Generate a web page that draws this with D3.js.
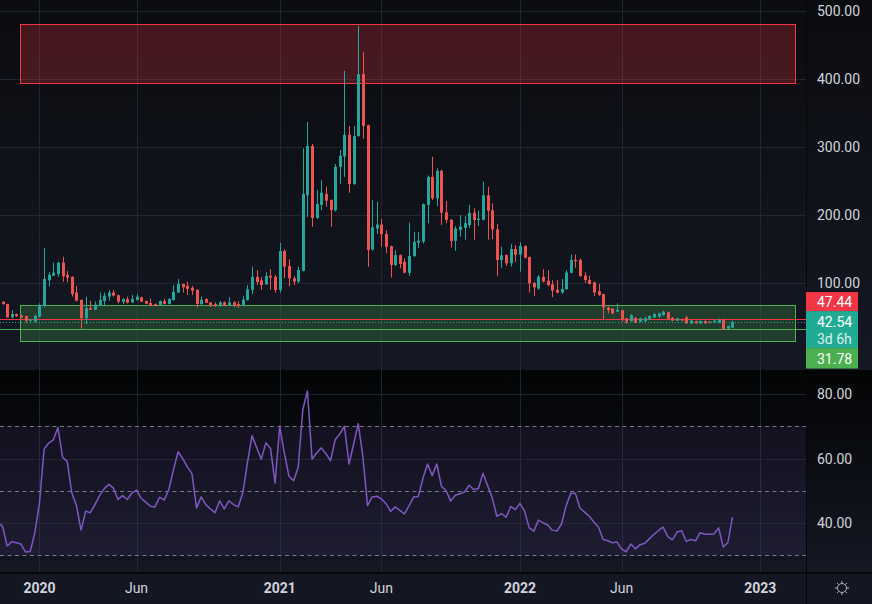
<!DOCTYPE html>
<html><head><meta charset="utf-8">
<script src="https://cdn.jsdelivr.net/npm/d3@7"></script>
<style>
html,body{margin:0;padding:0;background:#131722;overflow:hidden;}
svg{display:block;font-family:Roboto,"Noto Sans",sans-serif;}
</style></head><body><svg id="c" width="872" height="604"></svg>
<script>
// ---- data (weekly candles, index 0 = week of 2019-10-28) ----
const opens  =[76,72.5,69,49.5,54.4,52,51.5,44.6,43.6,50.5,66,104,110.8,113,130,112,109,86,75,48,63.2,60.8,67,73.5,80,86,82,72.5,76.5,71.5,75,79,73.5,70.6,69,66.7,73.5,69,75,86,98.5,96,93,90,69,76.5,71.5,69,66.7,71.5,66.7,71.5,69,66.7,75,90,109,104,98,110.8,109,90,147,125,107,102,118,229,301.5,195.6,215,231,222,207,271,286,318,245.6,316,407,332,149.5,180,186,172,154,126.5,141,131,115,139.7,159.3,161,215,256,224.5,265,204,193,162,178,181,185,203.4,192.6,193,229,207,179,134,141,129,150,141.7,154.4,138,100,92,109,103.4,98,90,86,91,115,134,134,111,104.4,101,88,83.5,63.7,62.3,57.8,60,48,44.1,49,43.1,44.1,46.6,49.5,50.5,52.9,56.9,49,44.6,46.6,49.5,40.7,44.1,40.7,44.1,43.1,41.7,41.7,45.6,32.8,34.3];
const highs  =[78,73.5,69.5,60,55,53.5,52,47,54,70,151.5,116,130,131,138.7,117.6,110,96,76,80,74,72.8,85.8,85.8,89.6,89.6,83,77.5,80,82.4,84,80,74.5,77,70,74.5,77,78,97,106,99,102,95.6,90.5,80.5,77.5,72,71.5,73.5,73,79,73.5,73.5,80.5,97,124,119,109,116,120.6,111.8,159,149.5,135,110,124,298,337,304.4,237,251,241.7,223,275,296,412,331,331,478,440,333,222,219.6,194,177.5,155,148,142,136,188.7,175.4,175.4,217,258,285.8,268.6,266.6,220.6,194,183.8,200,198.5,215,209.8,206.4,249,241.7,217.2,186.8,153.4,142,157.4,155.4,159.8,155.5,139,101,111.8,120.1,119,104,104.4,106,119,141.7,142,136,115.7,111,102,98.5,84.5,65.2,63,70,60,49,54,50,49,50.5,52.5,56,56.4,59.3,57.8,50,49,47.5,51.5,45.6,44.6,45,45,44,45.5,47.5,47.4,37.5,44.6];
const lows   =[71,68,49,48,50,48.5,41.7,40.7,41.7,49,65,95,110.3,109,102,101,80,73,33,39.7,60,60,66,67.6,74,80,70,69,70,70.5,74,72,69,66,65.5,66,68.5,68.5,74,85,86,82.4,82.4,64,68,70.5,64.7,64.7,64.7,66,66,64.7,63.5,66,74,84,97,89.7,97,90,86,86,107,95,97,100,117,197.5,182.8,194,207,212.3,182.8,205,246,256,232.8,244,315,312,124,147.5,172,153.4,143.6,108,125,121.6,114,110.3,138,151,158,188,222,213,185.3,188,152,147.5,168,163.7,181,163.7,183.8,192,163.7,164.7,110.3,122.5,125,124,131,116.7,136,85.8,80.9,90,101,95,79,85,84,90,114,122.5,108.8,100,98,80.9,80.9,46,55.4,54,57,43,39.7,43,41,42,40.7,45.5,48.5,49,52,46,44,44,44,40,40,40,40,40,41,41,41,31,32,34];
const closes =[72.5,69,49.5,54.4,51.5,49.5,44.6,46.5,51.5,67.6,106,112,115.2,130,110,108,84,74,48,63,60.8,68.1,75,81.4,86,81.4,72.5,76.5,71,76.5,80,72.5,69.5,66.7,66.2,73.5,69,76.5,87,98.5,93.6,91.2,88.8,69,75.5,71,66.7,66.7,71.5,66.7,71.5,66.7,66.7,75.5,90.7,109,101.4,97,110.3,108,89.7,147,124,107,102,119,231,301.5,195.6,216,233,221,207.4,271,287,318,245.6,316,407,331,148.5,182,186,171.6,153.4,126.5,141,128,115.2,139.7,160.5,162.2,216,256,224.5,265,203.4,192.6,161.8,180,183,188,203,192.6,194.5,229,206.4,178.9,133.8,140.7,128.9,150,141.7,154.4,137.2,99.5,93.6,109.3,102,97.1,88.7,85.8,91.2,115.7,133.8,132,110.3,104.4,98.5,86,82.4,64,60.3,55.4,60.5,45.6,43.1,52.9,42.2,48,48,51.5,54.4,55.4,57.8,46.6,44.6,48,44.6,40.7,44.6,40.7,44.1,40.7,41.7,44.6,45.6,31.9,36.8,42.54];
const rsi    =[40.2,39.0,32.9,34.2,33.9,33.5,31.0,31.2,37.0,46.2,62.9,64.8,65.8,69.6,60.4,59.1,49.3,45.4,37.8,43.7,43.2,45.7,48.5,50.6,52.0,50.8,47.3,48.5,47.3,49.3,50.2,47.7,46.5,45.2,45.0,48.0,47.1,50.4,56.5,62.1,60.0,57.4,55.3,44.7,48.1,45.7,44.4,43.2,46.9,44.4,46.9,45.7,45.0,49.3,58.6,67.1,63.4,59.8,64.8,63.2,52.4,70.0,61.7,54.5,53.1,57.3,75.2,80.9,59.8,61.7,63.3,61.5,59.3,65.8,67.6,70.0,58.3,64.5,70.8,60.6,45.4,48.1,48.3,47.5,46.0,43.6,45.0,43.9,42.8,45.4,48.1,48.2,53.9,58.3,54.7,58.3,51.4,50.1,46.8,48.6,49.1,49.6,51.7,50.4,50.7,55.4,51.6,47.8,42.1,42.9,41.8,45.1,44.2,46.1,43.7,38.5,37.5,40.9,40.1,39.4,37.8,37.5,39.7,45.4,49.2,49.2,44.6,43.4,42.1,40.3,38.7,34.9,34.5,33.9,34.1,31.9,31.1,33.5,32.0,33.3,33.7,35.1,36.5,37.7,38.7,35.8,34.8,37.2,37.6,34.3,34.9,34.5,37.0,36.5,36.5,36.6,38.5,32.6,33.9,41.8];
const priceTicks=[100,200,300,400,500];
const rsiTicks=[40,60,80];
const rsiLevels=[70,50,30];
const timeTickIdx=[9,30,61,83,113,135,165];
const timeTickLabels=["2020","Jun","2021","Jun","2022","Jun","2023"];
const zoneRed=[4.8,172.5,480.5,394];   // start idx, end idx, top price, bottom price
const zoneGreen=[4.8,172.5,67.2,14.3];
const lineRed=47.44, lineGreen=31.78, lastPrice=42.54, countdown="3d 6h";

// ---- layout ----
const W=872,H=604,PR=806,M0=0,M1=370,R0=370,R1=572.5,T0=573;
const svg=d3.select("#c");
const defs=svg.append("defs");
function grad(id,c0,c1){const g=defs.append("linearGradient").attr("id",id).attr("x1",0).attr("y1",0).attr("x2",0).attr("y2",1);
 g.append("stop").attr("offset","0%").attr("stop-color",c0);g.append("stop").attr("offset","100%").attr("stop-color",c1);}
grad("gMain","#0b0c10","#141823");grad("gRsi","#030405","#141823");
defs.append("clipPath").attr("id","cMain").append("rect").attr("x",0).attr("y",M0).attr("width",PR).attr("height",M1-M0);
defs.append("clipPath").attr("id","cRsi").append("rect").attr("x",0).attr("y",R0).attr("width",PR).attr("height",R1-R0);

svg.append("rect").attr("x",0).attr("y",M0).attr("width",W).attr("height",M1-M0).attr("fill","url(#gMain)");
svg.append("rect").attr("x",0).attr("y",R0).attr("width",W).attr("height",R1-R0).attr("fill","url(#gRsi)");
svg.append("rect").attr("x",0).attr("y",T0).attr("width",W).attr("height",H-T0).attr("fill","#131722");

const x=d3.scaleLinear().domain([0,159]).range([-2.1,-2.1+159*4.62]);
const y=d3.scaleLinear().domain([100,500]).range([283,11]);
const yR=d3.scaleLinear().domain([30,80]).range([555.3,394]);
const gridC="rgba(42,46,57,0.75)";
const crisp=v=>Math.round(v)+0.5;

// main pane
const gm=svg.append("g").attr("clip-path","url(#cMain)");
gm.selectAll(".vg").data(timeTickIdx).join("line").attr("x1",d=>crisp(x(d))).attr("x2",d=>crisp(x(d))).attr("y1",M0).attr("y2",M1).attr("stroke",gridC);
gm.selectAll(".hg").data(priceTicks).join("line").attr("x1",0).attr("x2",PR).attr("y1",d=>crisp(y(d))).attr("y2",d=>crisp(y(d))).attr("stroke",gridC);

function zone(z,fill,stroke){
 gm.append("rect").attr("x",crisp(x(z[0]))).attr("y",crisp(y(z[2]))).attr("width",Math.round(x(z[1])-x(z[0]))).attr("height",Math.round(y(z[3])-y(z[2])))
  .attr("fill",fill).attr("stroke",stroke).attr("stroke-width",1);
}
zone(zoneRed,"rgba(242,54,69,0.25)","#f23645");
zone(zoneGreen,"rgba(76,175,80,0.25)","#4caf50");

gm.append("line").attr("x1",0).attr("x2",PR).attr("y1",crisp(y(lineRed))).attr("y2",crisp(y(lineRed))).attr("stroke","#f23645");
gm.append("line").attr("x1",0).attr("x2",PR).attr("y1",crisp(y(lineGreen))).attr("y2",crisp(y(lineGreen))).attr("stroke","#4caf50");

const up="#26a69a",dn="#ef5350";
const idx=d3.range(closes.length);
const cg=gm.append("g");
cg.selectAll(".w").data(idx).join("line")
 .attr("x1",i=>Math.round(x(i))+0.5).attr("x2",i=>Math.round(x(i))+0.5)
 .attr("y1",i=>y(highs[i])).attr("y2",i=>y(lows[i]))
 .attr("stroke",i=>closes[i]>=opens[i]?up:dn).attr("stroke-width",1);
cg.selectAll(".b").data(idx).join("rect")
 .attr("x",i=>Math.round(x(i))-1).attr("width",3)
 .attr("y",i=>y(Math.max(opens[i],closes[i])))
 .attr("height",i=>Math.max(1,Math.abs(y(opens[i])-y(closes[i]))))
 .attr("fill",i=>closes[i]>=opens[i]?up:dn);

gm.append("line").attr("x1",0).attr("x2",PR).attr("y1",crisp(y(lastPrice))).attr("y2",crisp(y(lastPrice)))
 .attr("stroke",up).attr("stroke-dasharray","1,2");

// RSI pane
const gr=svg.append("g").attr("clip-path","url(#cRsi)");
gr.selectAll(".vg").data(timeTickIdx).join("line").attr("x1",d=>crisp(x(d))).attr("x2",d=>crisp(x(d))).attr("y1",R0).attr("y2",R1).attr("stroke",gridC);
gr.append("rect").attr("x",0).attr("width",PR).attr("y",yR(70)).attr("height",yR(30)-yR(70)).attr("fill","rgba(126,87,194,0.1)");
gr.selectAll(".hg").data(rsiTicks).join("line").attr("x1",0).attr("x2",PR).attr("y1",d=>crisp(yR(d))).attr("y2",d=>crisp(yR(d))).attr("stroke",gridC);
gr.selectAll(".lv").data(rsiLevels).join("line").attr("x1",0).attr("x2",PR).attr("y1",d=>crisp(yR(d))).attr("y2",d=>crisp(yR(d)))
 .attr("stroke","#787b86").attr("stroke-dasharray","4,3.5");
gr.append("path").datum(idx).attr("fill","none").attr("stroke","#7e57c2").attr("stroke-width",1.5).attr("stroke-linejoin","round")
 .attr("d",d3.line().x(i=>x(i)).y(i=>yR(rsi[i])));

// separators
svg.append("line").attr("x1",PR+0.5).attr("x2",PR+0.5).attr("y1",0).attr("y2",H).attr("stroke","#050608");
svg.append("rect").attr("x",0).attr("y",R1).attr("width",W).attr("height",1.2).attr("fill","#000");

// price axis labels
const txtC="#d1d4dc";
svg.selectAll(".pl").data(priceTicks).join("text").attr("x",817).attr("y",d=>y(d)).attr("dy","0.36em")
 .attr("fill",txtC).attr("font-size",14).text(d3.format(".2f"));
svg.selectAll(".rl").data(rsiTicks).join("text").attr("x",817).attr("y",d=>yR(d)).attr("dy","0.36em")
 .attr("fill",txtC).attr("font-size",14).text(d3.format(".2f"));

// value labels stacked around last price
const ly=y(lastPrice);
const tealTop=ly-11, tealBot=ly+26;
svg.append("rect").attr("x",PR).attr("y",tealTop-19).attr("width",52).attr("height",19).attr("fill","#f23645");
svg.append("rect").attr("x",PR).attr("y",tealTop).attr("width",52).attr("height",tealBot-tealTop).attr("fill","#22ab94");
svg.append("rect").attr("x",PR).attr("y",tealBot).attr("width",52).attr("height",20.5).attr("fill","#4caf50");
svg.append("text").attr("x",817).attr("y",tealTop-9.5).attr("dy","0.36em").attr("fill","#fff").attr("font-size",14).text(d3.format(".2f")(lineRed));
svg.append("text").attr("x",817).attr("y",ly).attr("dy","0.36em").attr("fill","#fff").attr("font-size",14).text(d3.format(".2f")(lastPrice));
svg.append("text").attr("x",817).attr("y",ly+16.5).attr("dy","0.36em").attr("fill","rgba(255,255,255,0.85)").attr("font-size",14).text(countdown);
svg.append("text").attr("x",817).attr("y",tealBot+10.5).attr("dy","0.36em").attr("fill","#fff").attr("font-size",14).text(d3.format(".2f")(lineGreen));

// time axis
svg.selectAll(".tl").data(timeTickIdx).join("text").attr("x",d=>x(d)).attr("y",588).attr("dy","0.36em")
 .attr("text-anchor","middle").attr("fill",txtC).attr("font-size",14)
 .attr("font-weight",(d,i)=>/^\d+$/.test(timeTickLabels[i])?700:400).text((d,i)=>timeTickLabels[i]);

// settings icon
const gi=svg.append("g").attr("transform","translate(842,588)").attr("stroke","#b2b5be").attr("fill","none").attr("stroke-width",1);
gi.append("circle").attr("r",4.5);
d3.range(8).forEach(k=>{const a=k*Math.PI/4;gi.append("line").attr("x1",Math.cos(a)*5).attr("y1",Math.sin(a)*5).attr("x2",Math.cos(a)*7).attr("y2",Math.sin(a)*7);});
</script></body></html>
